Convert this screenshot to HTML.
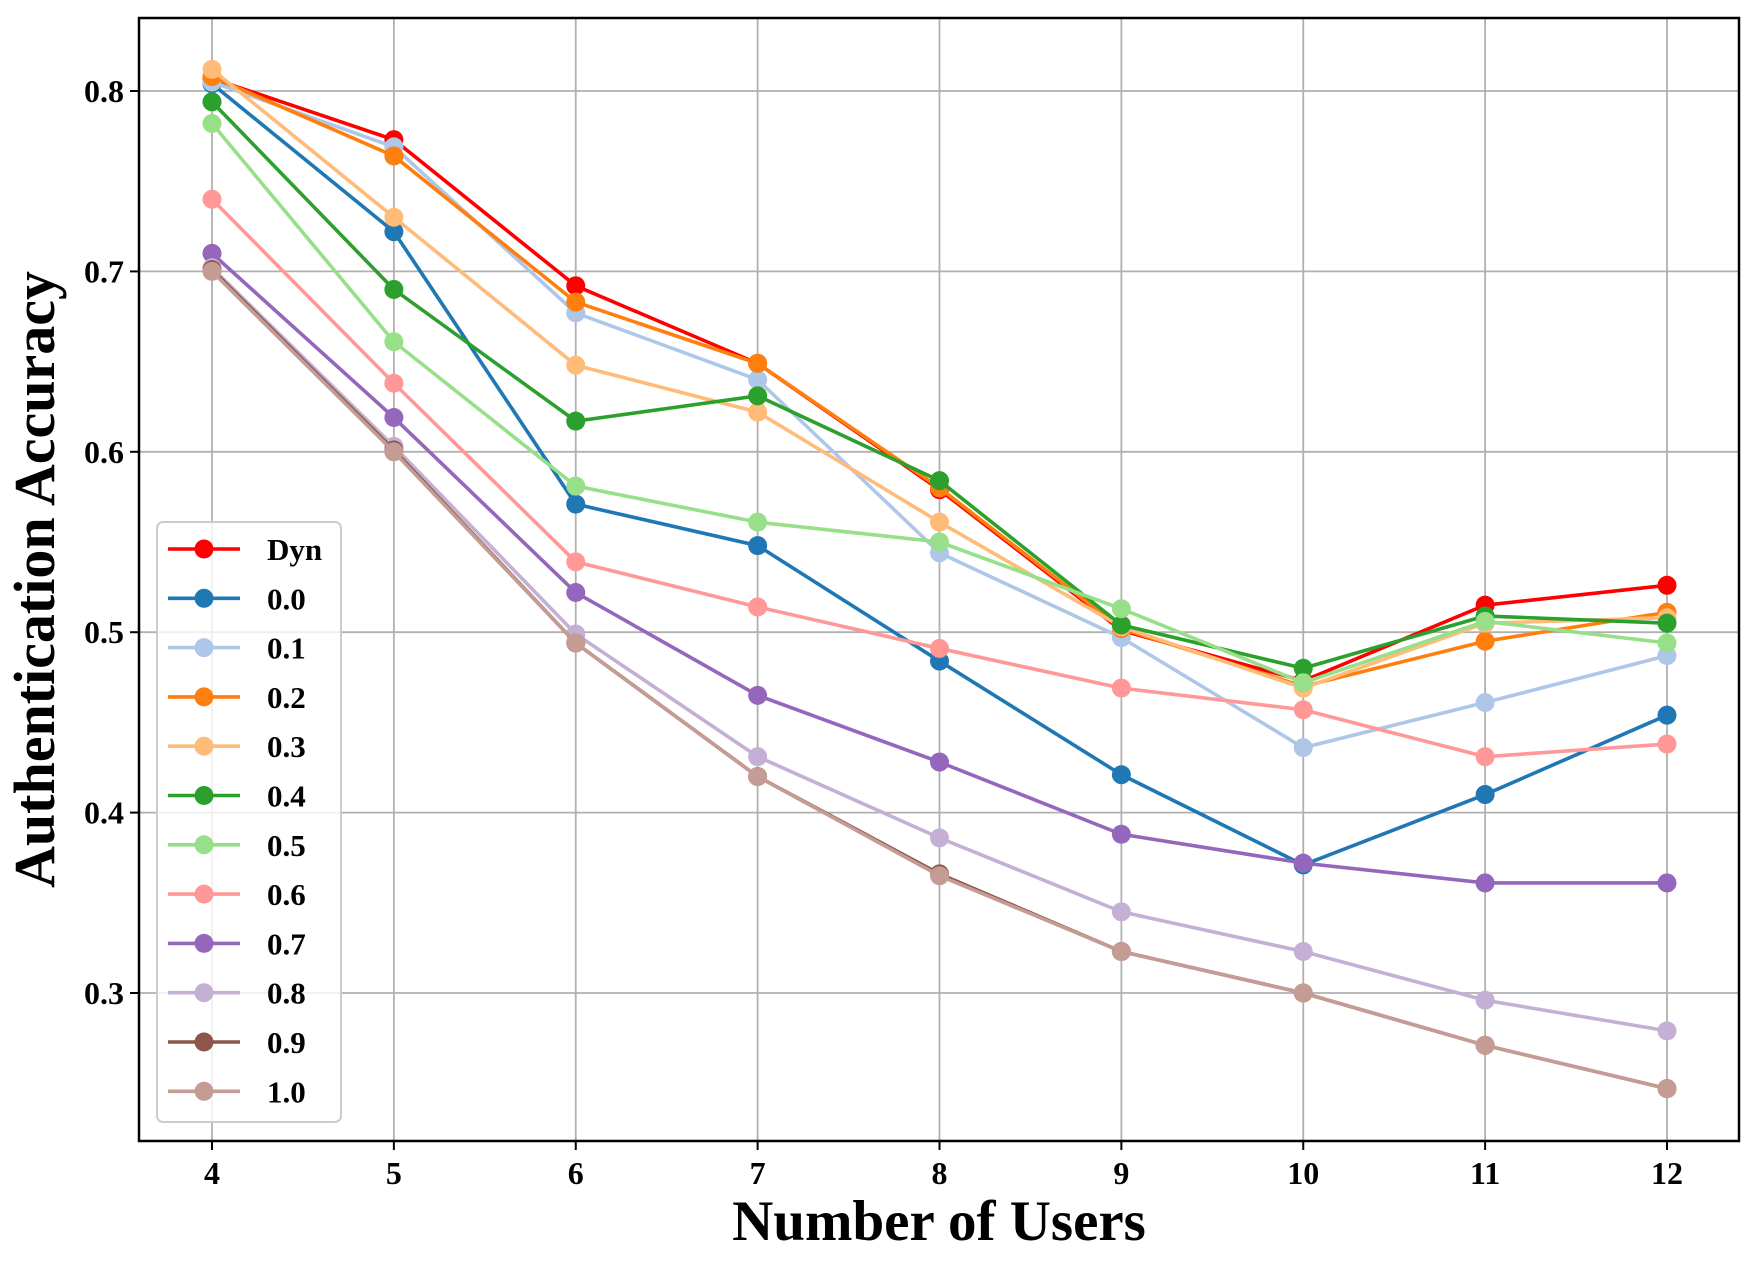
<!DOCTYPE html>
<html><head><meta charset="utf-8"><style>
body{margin:0;background:#fff}
svg text{font-family:"Liberation Serif",serif;font-weight:bold}
</style></head><body>
<svg id="chart" width="1758" height="1256" xmlns="http://www.w3.org/2000/svg"></svg>
<script>
const categories=[4,5,6,7,8,9,10,11,12];
const yTicks=[0.3,0.4,0.5,0.6,0.7,0.8];
const seriesNames=["Dyn","0.0","0.1","0.2","0.3","0.4","0.5","0.6","0.7","0.8","0.9","1.0"];
const sDyn=[0.807,0.773,0.692,0.649,0.579,0.501,0.473,0.515,0.526];
const s00=[0.804,0.722,0.571,0.548,0.484,0.421,0.371,0.410,0.454];
const s01=[0.805,0.769,0.677,0.640,0.544,0.497,0.436,0.461,0.487];
const s02=[0.808,0.764,0.683,0.649,0.580,0.502,0.470,0.495,0.511];
const s03=[0.812,0.730,0.648,0.622,0.561,0.503,0.469,0.505,0.508];
const s04=[0.794,0.690,0.617,0.631,0.584,0.504,0.480,0.509,0.505];
const s05=[0.782,0.661,0.581,0.561,0.550,0.513,0.472,0.506,0.494];
const s06=[0.740,0.638,0.539,0.514,0.491,0.469,0.457,0.431,0.438];
const s07=[0.710,0.619,0.522,0.465,0.428,0.388,0.372,0.361,0.361];
const s08=[0.702,0.603,0.499,0.431,0.386,0.345,0.323,0.296,0.279];
const s09=[0.701,0.601,0.494,0.420,0.366,0.323,0.300,0.271,0.247];
const s10=[0.700,0.600,0.494,0.420,0.365,0.323,0.300,0.271,0.247];
const seriesValues=[sDyn,s00,s01,s02,s03,s04,s05,s06,s07,s08,s09,s10];
const colors=["#ff0000","#1f77b4","#aec7e8","#ff7f0e","#ffbb78","#2ca02c","#98df8a","#ff9896","#9467bd","#c5b0d5","#8c564b","#c49c94"];

const L=139,R=1739,T=18,B=1141;
const xS=v=>212+(v-4)*(1667-212)/8;
const yS=v=>91+(0.8-v)*1804;
const svg=document.getElementById('chart');
const NS="http://www.w3.org/2000/svg";
function mk(tag,attrs,parent){const e=document.createElementNS(NS,tag);for(const k in attrs)e.setAttribute(k,attrs[k]);(parent||svg).appendChild(e);return e;}

categories.forEach(c=>{const g=mk('line',{x1:xS(c),x2:xS(c),y1:T,y2:B,stroke:'#b0b0b0','stroke-width':1.8});

});
yTicks.forEach(t=>{const g=mk('line',{x1:L,x2:R,y1:yS(t),y2:yS(t),stroke:'#b0b0b0','stroke-width':1.8});

});

seriesValues.forEach((vals,i)=>{
 const grp=mk('g',{});
 
 
 const pts=vals.map((v,j)=>xS(categories[j])+','+yS(v)).join(' ');
 mk('polyline',{points:pts,fill:'none',stroke:colors[i],'stroke-width':3.6},grp);
 vals.forEach((v,j)=>{const c=mk('circle',{cx:xS(categories[j]),cy:yS(v),r:9.5,fill:colors[i]},grp);
 
 });
});

const fr=mk('rect',{x:L,y:T,width:R-L,height:B-T,fill:'none',stroke:'#000','stroke-width':2.5});



categories.forEach(c=>{mk('line',{x1:xS(c),x2:xS(c),y1:B,y2:B+9,stroke:'#000','stroke-width':2});
 const t=mk('text',{x:xS(c),y:1184,'font-size':32,'text-anchor':'middle'});t.textContent=c;
 
 });
yTicks.forEach(v=>{mk('line',{x1:L-9,x2:L,y1:yS(v),y2:yS(v),stroke:'#000','stroke-width':2});
 const t=mk('text',{x:124,y:yS(v)+11,'font-size':32,'text-anchor':'end'});t.textContent=v.toFixed(1);
 
 });

const xt=mk('text',{x:(L+R)/2,y:1240,'font-size':57,'text-anchor':'middle'});xt.textContent='Number of Users';


const yt=mk('text',{x:0,y:0,'font-size':58,'text-anchor':'middle',transform:'translate(54,'+((T+B)/2)+') rotate(-90)'});yt.textContent='Authentication Accuracy';



const lg=mk('g',{});


mk('rect',{x:157,y:522,width:184,height:600,rx:6,fill:'rgba(255,255,255,0.8)',stroke:'#cccccc','stroke-width':2},lg);
seriesNames.forEach((n,i)=>{
 const y=549+i*49.3;
 const e=mk('g',{},lg);
 
 
 mk('line',{x1:168,x2:240,y1:y,y2:y,stroke:colors[i],'stroke-width':3.6},e);
 mk('circle',{cx:204,cy:y,r:9.5,fill:colors[i]},e);
 const t=mk('text',{x:267,y:y+11,'font-size':31},e);t.textContent=n;
});
</script>
</body></html>
